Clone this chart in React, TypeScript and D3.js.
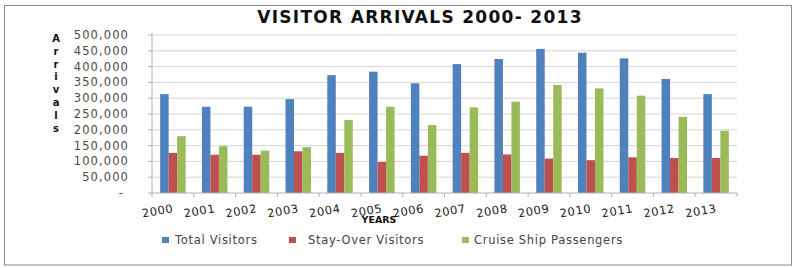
import React from 'react';
import * as d3 from 'd3';

const years = ['2000', '2001', '2002', '2003', '2004', '2005', '2006', '2007', '2008', '2009', '2010', '2011', '2012', '2013'];
const totalVisitors = [313000, 273000, 273000, 297000, 373000, 384000, 347000, 408000, 424000, 456000, 444000, 426000, 361000, 313000];
const stayOverVisitors = [127000, 121000, 121000, 132000, 127000, 98000, 118000, 127000, 122000, 109000, 104000, 113000, 111000, 111000];
const cruisePassengers = [180000, 148000, 134000, 145000, 231000, 273000, 215000, 271000, 289000, 342000, 331000, 308000, 241000, 197000];
const seriesNames = ['Total Visitors', 'Stay-Over Visitors', 'Cruise Ship Passengers'];
const yTicks = [0, 50000, 100000, 150000, 200000, 250000, 300000, 350000, 400000, 450000, 500000];
const yTitle = 'Arrivals';

const colors = ['#4F81BD', '#C0504D', '#9BBB59'];
const font = "'DejaVu Sans', Verdana, sans-serif";

export default function App() {
  const width = 797;
  const height = 268;
  const left = 152;
  const right = 737;
  const top = 35;
  const bottom = 193;

  const x = d3.scaleBand().domain(years).range([left, right]).paddingInner(0).paddingOuter(0);
  const inner = d3.scaleBand().domain(['0', '1', '2']).range([0, 25.5]);
  const groupOffset = (x.bandwidth() - 25.5) / 2;
  const y = d3.scaleLinear().domain([0, 500000]).range([bottom, top]);
  const fmt = d3.format(',');
  const all = [totalVisitors, stayOverVisitors, cruisePassengers];

  return (
    <svg width={width} height={height} style={{ position: 'absolute', left: 0, top: 0 }} fontFamily={font}>
      <rect x={0} y={0} width={width} height={height} fill="#fff" />
      <rect x={4.5} y={5.5} width={787} height={259.5} fill="none" stroke="#8a8a8a" strokeWidth={1} />
      <text x={420} y={23} textAnchor="middle" fontSize={17} fontWeight="bold" letterSpacing={1.3} fill="#111">VISITOR ARRIVALS 2000- 2013</text>

      {yTicks.map((t) => (
        <g key={t}>
          {t > 0 && <line x1={left} x2={right} y1={y(t)} y2={y(t)} stroke="#d4d4d4" strokeWidth={1} />}
          <line x1={left - 4} x2={left} y1={y(t)} y2={y(t)} stroke="#b0b0b0" />
          <text x={t === 0 ? 124 : 129} y={y(t) + 4} textAnchor="end" fontSize={11.5} letterSpacing={1.1} fill="#4a4a4a">
            {t === 0 ? '-' : fmt(t)}
          </text>
        </g>
      ))}

      {yTitle.split('').map((c, i) => (
        <text key={i} x={56} y={42 + i * 12.8} textAnchor="middle" fontSize={10} fontWeight="bold" fill="#111">{c}</text>
      ))}

      {years.map((yr, i) => (
        <g key={yr}>
          {all.map((s, k) => (
            <rect key={k} x={(x(yr) ?? 0) + groupOffset + (inner(String(k)) ?? 0)} y={y(s[i])}
              width={inner.bandwidth()} height={bottom - y(s[i])} fill={colors[k]} />
          ))}
        </g>
      ))}

      <line x1={left} x2={left} y1={top - 2} y2={bottom} stroke="#b0b0b0" />
      <line x1={left} x2={right} y1={bottom} y2={bottom} stroke="#b0b0b0" />
      {years.concat(['end']).map((yr, i) => (
        <line key={yr} x1={left + i * x.bandwidth()} x2={left + i * x.bandwidth()} y1={bottom} y2={bottom + 4} stroke="#b0b0b0" />
      ))}

      {years.map((yr) => {
        const cx = (x(yr) ?? 0) + x.bandwidth() / 2 + 1;
        return (
          <text key={yr} transform={`translate(${cx},212) rotate(-10)`} textAnchor="end" fontSize={11.5} letterSpacing={0.6} fill="#222">{yr}</text>
        );
      })}
      <text x={379} y={223} textAnchor="middle" fontSize={9.5} fontWeight="bold" fill="#111">YEARS</text>

      {seriesNames.map((n, k) => {
        const sx = [162, 289, 462][k];
        const tx = [175, 308, 474][k];
        return (
          <g key={n}>
            <rect x={sx} y={237} width={7} height={6} fill={colors[k]} />
            <text x={tx} y={244} fontSize={11.5} letterSpacing={0.7} fill="#444">{n}</text>
          </g>
        );
      })}
    </svg>
  );
}
